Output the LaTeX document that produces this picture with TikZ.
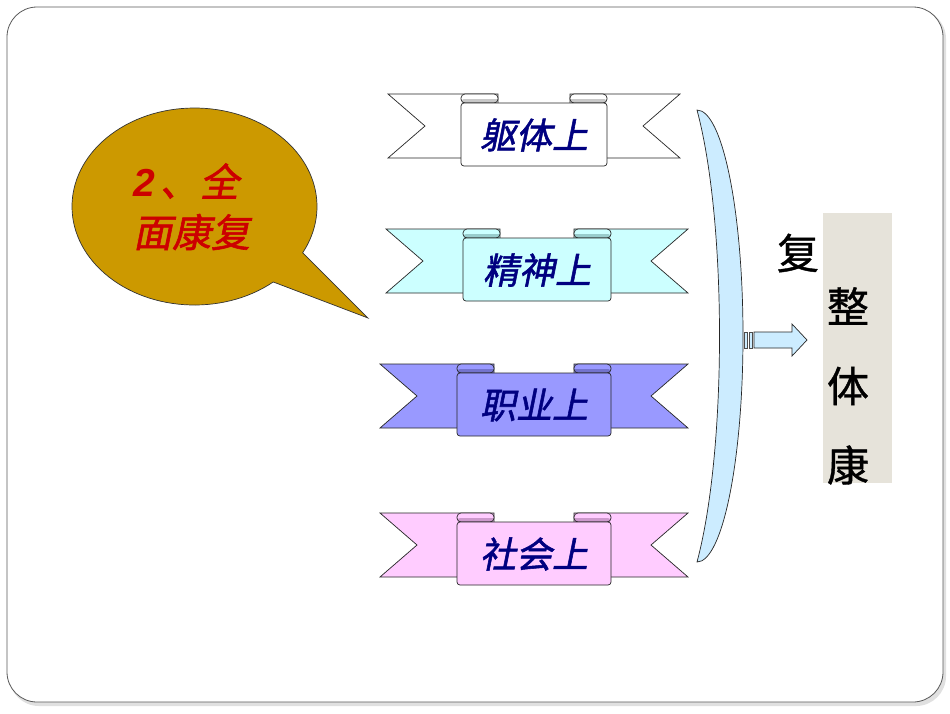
\documentclass[tikz,border=0pt]{standalone}
\usepackage{fontspec}
\newfontfamily\cjk{Noto Sans CJK SC}[FakeBold=1]
\newfontfamily\cjkit{Noto Sans CJK SC}[FakeSlant=0.2, FakeBold=1.5]
\newfontfamily\lib{Liberation Sans}
\definecolor{ribtext}{HTML}{000080}
\definecolor{callred}{HTML}{CC0000}
\definecolor{callfill}{HTML}{CC9900}
\definecolor{brfill}{HTML}{CCECFF}
\definecolor{boxfill}{HTML}{E6E3DA}
\definecolor{cyanfill}{HTML}{CCFFFF}
\definecolor{cyandark}{HTML}{99CCCC}
\definecolor{bluefill}{HTML}{9999FF}
\definecolor{bluedark}{HTML}{7373CC}
\definecolor{pinkfill}{HTML}{FFCCFF}
\definecolor{pinkdark}{HTML}{CC99CC}
\definecolor{whitedark}{HTML}{C8C8C8}
\tikzset{
  ribline/.style={draw=black!85, line width=0.7pt, line join=miter},
  ribtxt/.style={font=\cjkit\fontsize{36}{36}\selectfont, text=ribtext, inner sep=0pt},
  callshape/.style={draw=black!80, line width=0.7pt, fill=callfill},
  calltxt/.style={font=\cjkit\fontsize{39}{39}\selectfont, text=callred, inner sep=0pt, anchor=west},
  brk/.style={draw=black!85, line width=0.7pt, fill=brfill},
  vtxt/.style={font=\cjk\fontsize{42}{42}\selectfont, text=black, inner sep=0pt}
}
% #1 name, #2 outer left x, #3 panel left, #4 panel right, #5 outer right, #6 top y, #7 fill, #8 dark, #9 text
\newcommand\ribbon[9]{%
  \filldraw[ribline, fill=#7] (#2,#6) -- ({#3+37},#6) -- ({#3+37},{#6+64}) -- (#2,{#6+64}) -- ({#2+37},{#6+32}) -- cycle;
  \filldraw[ribline, fill=#7] (#5,#6) -- ({#4-37},#6) -- ({#4-37},{#6+64}) -- (#5,{#6+64}) -- ({#5-37},{#6+32}) -- cycle;
  \fill[#7, rounded corners=4] (#3,{#6+9}) rectangle ({#3+37},#6);
  \fill[#8] ({#3+1},{#6+9}) .. controls ({#3+1},{#6+5}) .. ({#3+6},{#6+5}) -- ({#3+36},{#6+5}) -- ({#3+36},{#6+9}) -- cycle;
  \draw[ribline, rounded corners=4] (#3,{#6+9}) rectangle ({#3+37},#6);
  \fill[#7, rounded corners=4] ({#4-37},#6) rectangle (#4,{#6+9});
  \fill[#8] ({#4-36},{#6+5}) -- ({#4-6},{#6+5}) .. controls ({#4-1},{#6+5}) .. ({#4-1},{#6+9}) -- ({#4-36},{#6+9}) -- cycle;
  \draw[ribline, rounded corners=4] ({#4-37},#6) rectangle (#4,{#6+9});
  \filldraw[ribline, fill=#7, rounded corners=3] (#3,{#6+9}) rectangle (#4,{#6+72});
  \node[ribtxt] (#1) at ({(#3+#4)/2},{#6+41}) {#9};
}
\begin{document}
\begin{tikzpicture}[x=1pt,y=-1pt]
\useasboundingbox (0,0) rectangle (950,713);
\fill[white] (0,0) rectangle (950,713);
% slide frame with soft shadow
\fill[black!12, rounded corners=30] (9,9) rectangle (946,706);
\filldraw[fill=white, draw=black!65, line width=0.8pt, rounded corners=30] (7,7) rectangle (943,702);

% callout
\filldraw[callshape] ({194.5+122.5*cos(50)},{206.5+98.5*sin(50)})
  arc[start angle=50, end angle=388, x radius=122.5, y radius=98.5] -- (368,318) -- cycle;
\node[calltxt] (c1) at (133,181) {{\lib\bfseries\itshape 2}\hspace{5pt}、\hspace{1pt}全};
\node[calltxt] (c2) at (133,232) {面康复};

% ribbons
\ribbon{r1}{388}{461}{607}{680}{94}{white}{whitedark}{躯体上}
\ribbon{r2}{386}{463}{611}{688}{229}{cyanfill}{cyandark}{精神上}
\ribbon{r3}{380}{457}{611}{688}{364}{bluefill}{bluedark}{职业上}
\ribbon{r4}{380}{457}{611}{688}{513}{pinkfill}{pinkdark}{社会上}

% bracket
\coordinate (btop) at (697,110);
\coordinate (bbot) at (697,562);
\filldraw[brk] (btop) arc[start angle=-90, end angle=90, x radius=46, y radius=226]
  .. controls (727,450) and (727,222) .. (btop) -- cycle;

% striped arrow
\coordinate (aend) at (807,340);
\filldraw[brk, draw=black!70] (744,332) rectangle (747,348);
\filldraw[brk, draw=black!70] (749,332) rectangle (752,348);
\filldraw[brk] (754,332) -- (792,332) -- (792,324) -- (aend) -- (792,356) -- (792,348) -- (754,348) -- cycle;

% result box
\fill[boxfill] (823,213) rectangle (892,483);
\node[vtxt] (t0) at (798,253) {复};
\node[vtxt] (t1) at (848,306) {整};
\node[vtxt] (t2) at (848,386) {体};
\node[vtxt] (t3) at (848,465) {康};
\end{tikzpicture}
\end{document}
